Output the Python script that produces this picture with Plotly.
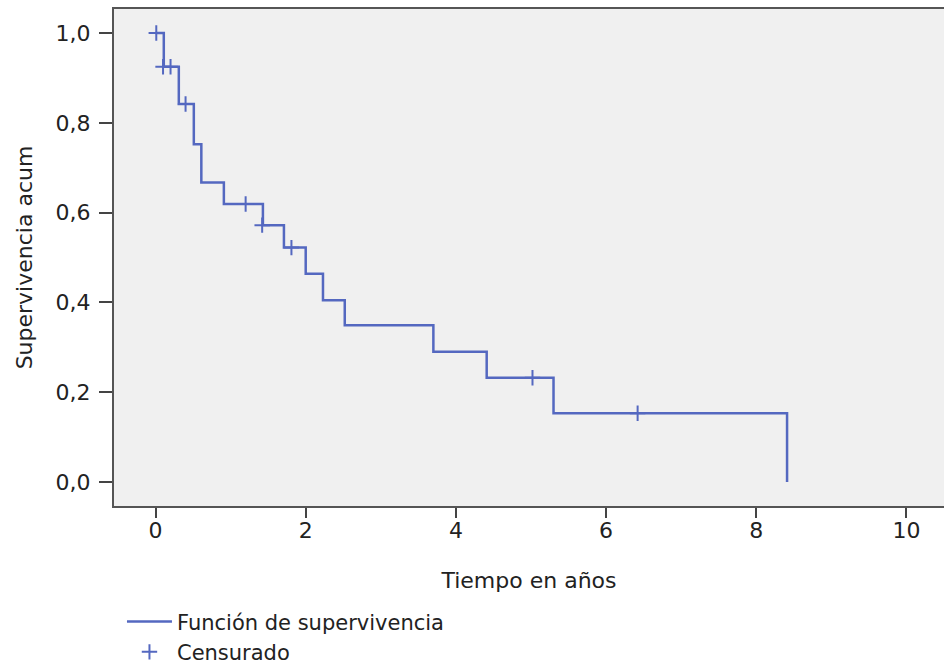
import plotly.graph_objects as go

# Kaplan-Meier step data
event_times = [0.0, 0.11, 0.31, 0.51, 0.61, 0.91, 1.43, 1.71, 2.00, 2.23, 2.52, 3.70, 4.41, 5.30, 8.41]
survival = [1.0, 0.925, 0.842, 0.752, 0.667, 0.619, 0.572, 0.522, 0.464, 0.405, 0.349, 0.290, 0.232, 0.153, 0.0]

censor_times = [0.01, 0.10, 0.20, 0.40, 1.20, 1.42, 1.81, 5.02, 6.42]
censor_surv = [1.0, 0.925, 0.925, 0.842, 0.619, 0.572, 0.522, 0.232, 0.153]

x_ticks = [0, 2, 4, 6, 8, 10]
y_ticks = [0.0, 0.2, 0.4, 0.6, 0.8, 1.0]
y_tick_labels = ["0,0", "0,2", "0,4", "0,6", "0,8", "1,0"]

BLUE = "#5468c0"
TXT = "#222222"
FONT = "DejaVu Sans"

fig = go.Figure()
fig.add_trace(go.Scatter(
    x=event_times, y=survival, mode="lines", line_shape="hv",
    line=dict(color=BLUE, width=2.5), name="Función de supervivencia",
))
fig.add_trace(go.Scatter(
    x=censor_times, y=censor_surv, mode="markers",
    marker=dict(symbol="cross-thin", size=11, line=dict(color=BLUE, width=2), color=BLUE),
    name="Censurado",
))

fig.update_layout(
    width=944, height=668,
    margin=dict(l=114, r=0, t=9, b=162, autoexpand=False),
    paper_bgcolor="white", plot_bgcolor="#f0f0f0",
    font=dict(family=FONT, size=22, color=TXT),
    showlegend=True,
    legend=dict(
        x=0.0096, y=-0.192, xanchor="left", yanchor="top",
        orientation="v", font=dict(size=21, color=TXT, family=FONT),
        bgcolor="rgba(0,0,0,0)", tracegroupgap=0, itemwidth=45,
    ),
    xaxis=dict(
        range=[-0.553, 10.50], tickmode="array", tickvals=x_ticks,
        ticks="outside", ticklen=10, tickwidth=2, tickcolor="#444",
        showline=True, linecolor="#555", linewidth=2, mirror=True,
        showgrid=False, zeroline=False, automargin=False,
        tickfont=dict(size=22, family=FONT, color=TXT), ticklabelstandoff=-6,
        title=dict(text="Tiempo en años", standoff=30, font=dict(size=22, family=FONT, color=TXT)),
    ),
    yaxis=dict(
        range=[-0.0535, 1.0535], tickmode="array", tickvals=y_ticks, ticktext=y_tick_labels,
        ticks="outside", ticklen=13, tickwidth=2, tickcolor="#444",
        showline=True, linecolor="#555", linewidth=2, mirror=False,
        showgrid=False, zeroline=False, automargin=False,
        tickfont=dict(size=22, family=FONT, color=TXT), ticklabelstandoff=4,
        title=dict(text="Supervivencia acum", standoff=17, font=dict(size=22, family=FONT, color=TXT)),
    ),
)

fig.write_html("out.html", config={"displayModeBar": False},
               post_script="document.body.style.margin='0';")
